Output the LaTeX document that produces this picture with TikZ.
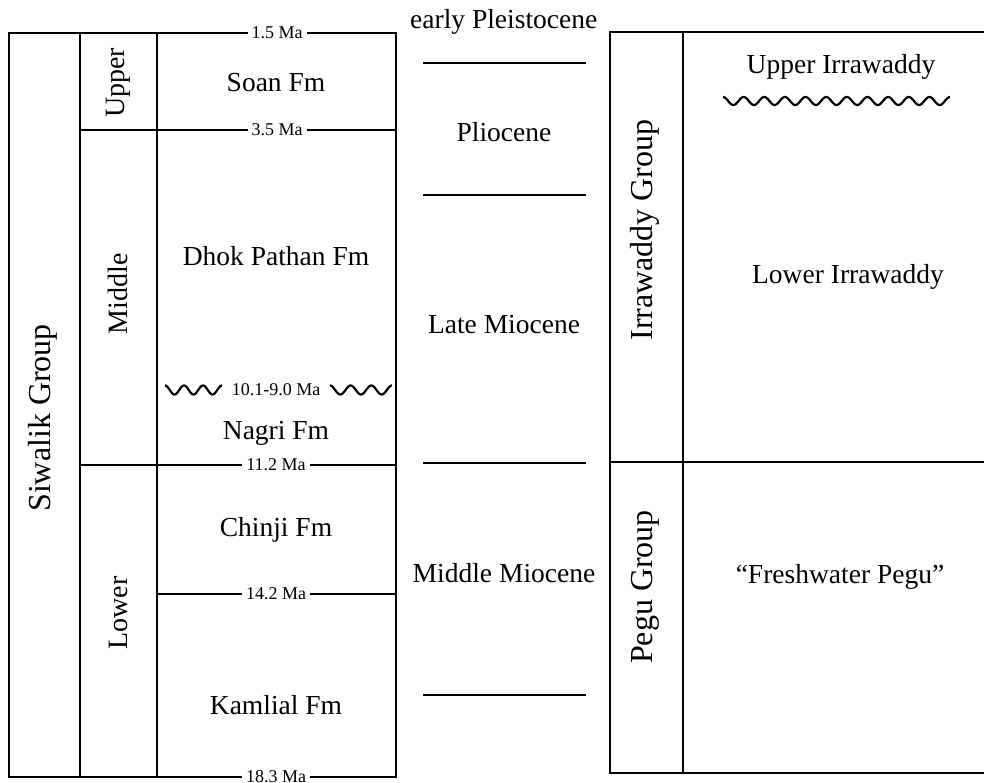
\documentclass[tikz,border=0pt]{standalone}
\usepackage{fontspec}
\setmainfont{Liberation Serif}
\begin{document}
\begin{tikzpicture}[x=1pt,y=-1pt,
  box/.style={line width=2.6pt},
  rule/.style={line width=2.6pt},
  big/.style={font=\fontsize{27.5}{30}\selectfont, inner sep=0pt},
  grp/.style={font=\fontsize{32}{34}\selectfont, inner sep=0pt, rotate=90},
  sub/.style={font=\fontsize{28}{30}\selectfont, inner sep=0pt, rotate=90},
  age/.style={font=\fontsize{18}{20}\selectfont, fill=white, inner xsep=4pt, inner ysep=1pt},
  wave/.style={line width=2.2pt, line join=round}]
\useasboundingbox (0,0) rectangle (984,783);
% ---------- left column block ----------
\draw[box] (9,33) rectangle (396,777);
\draw[box] (80,33) -- (80,777);
\draw[box] (157,33) -- (157,777);
\draw[box] (80,130) -- (396,130);
\draw[box] (80,465) -- (396,465);
\draw[box] (157,594) -- (396,594);
\node[grp] (siwalik) at (43,418) {Siwalik Group};
\node[sub] (upper) at (118,83) {Upper};
\node[sub] (middle) at (118,294) {Middle};
\node[sub] (lower) at (118,613) {Lower};
\node[big] (soan) at (276,83) {Soan Fm};
\node[big] (dhok) at (276,256) {Dhok Pathan Fm};
\node[big] (nagri) at (276,433) {Nagri Fm};
\node[big] (chinji) at (276,530) {Chinji Fm};
\node[big] (kamlial) at (276,705) {Kamlial Fm};
\node[age] (a15) at (277,33) {1.5 Ma};
\node[age] (a35) at (277,130) {3.5 Ma};
\node[age] (a112) at (276,465) {11.2 Ma};
\node[age] (a142) at (276,594) {14.2 Ma};
\node[age] (a183) at (276,777) {18.3 Ma};
\node[age, fill=none] (a101) at (276,390) {10.1-9.0 Ma};
\draw[wave] plot[domain=0:57, samples=120] ({165+\x}, {390-4.5*cos(\x*18.947)});
\draw[wave] plot[domain=0:62, samples=120] ({330+\x}, {390-4.5*cos(\x*17.42)});
% ---------- epochs ----------
\node[big, anchor=west] (pleist) at (410,22) {early Pleistocene};
\node[big] (plio) at (504,132) {Pliocene};
\node[big] (late) at (504,325) {Late Miocene};
\node[big] (midm) at (504,573) {Middle Miocene};
\draw[rule] (423,63) -- (586,63);
\draw[rule] (423,195) -- (586,195);
\draw[rule] (423,463) -- (586,463);
\draw[rule] (423,695) -- (586,695);
% ---------- right column block ----------
\draw[box] (990,32) -- (610,32) -- (610,773) -- (990,773);
\draw[box] (683,32) -- (683,773);
\draw[box] (610,462) -- (990,462);
\node[grp] (irr) at (645,230) {Irrawaddy Group};
\node[grp] (pegu) at (645,587) {Pegu Group};
\node[big] (uirr) at (841,67) {Upper Irrawaddy};
\node[big] (lirr) at (848,277) {Lower Irrawaddy};
\node[big] (fpegu) at (840,577) {``Freshwater Pegu''};
\draw[wave] plot[domain=0:227, samples=400] ({723+\x}, {101-4*cos(\x*17.442)});
\end{tikzpicture}
\end{document}
